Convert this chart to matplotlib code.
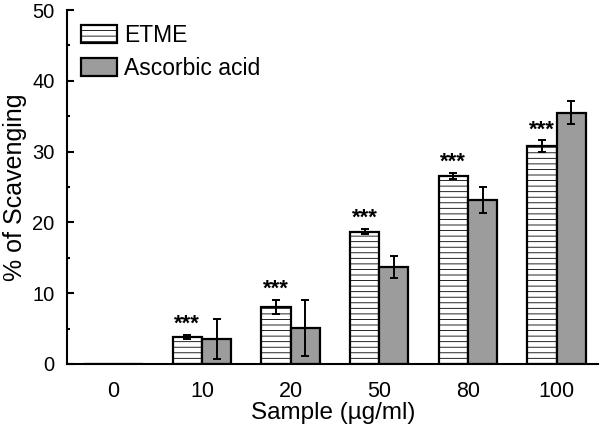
import numpy as np
import matplotlib.pyplot as plt
import matplotlib as mpl

plt.rcParams['font.family'] = ['Liberation Sans', 'DejaVu Sans']
mpl.rcParams['hatch.linewidth'] = 0.6
mpl.rcParams['hatch.color'] = '#a8a8a8'

samples = ['0', '10', '20', '50', '80', '100']
etme = [0, 3.8, 8.1, 18.7, 26.6, 30.8]
etme_err = [0, 0.3, 1.0, 0.4, 0.4, 0.8]
ascorbic = [0, 3.5, 5.1, 13.7, 23.2, 35.5]
ascorbic_err = [0, 2.8, 3.9, 1.55, 1.8, 1.6]
signif = ['', '***', '***', '***', '***', '***']

fig = plt.figure(figsize=(6, 4.3), dpi=100)
ax = fig.add_axes([0.112, 0.1535, 0.885, 0.823])

x = np.arange(len(samples))
w = 0.33
ekw = dict(elinewidth=1.4, capthick=1.4)
ax.bar(x - w/2, etme, w, color='white', edgecolor='black', linewidth=1.6,
       hatch='---', label='ETME')
ax.errorbar(x - w/2, etme, yerr=etme_err, fmt='none', ecolor='black', capsize=3, **ekw)
ax.bar(x + w/2, ascorbic, w, color='#9c9c9c', edgecolor='black', linewidth=1.6,
       label='Ascorbic acid')
ax.errorbar(x + w/2, ascorbic, yerr=ascorbic_err, fmt='none', ecolor='black', capsize=3, **ekw)

for xi, v, e, s in zip(x, etme, etme_err, signif):
    if s:
        ax.annotate(s, (xi - w/2, v + e), xytext=(0, 0), textcoords='offset points',
                    ha='center', va='bottom', fontsize=16, fontweight='bold')

ax.set_xlim(-0.52, 5.47)
ax.set_ylim(0, 50)
ax.set_xticks(x)
ax.set_xticklabels(samples, fontsize=15.5)
ax.tick_params(axis='x', length=0, pad=12)
ax.set_yticks(np.arange(0, 51, 10))
ax.set_yticks(np.arange(5, 50, 10), minor=True)
ax.tick_params(axis='y', which='major', length=5, width=1.5, labelsize=14.5,
               direction='in', pad=9)
ax.tick_params(axis='y', which='minor', length=2.5, width=1.5, direction='in')
for s in ['top', 'right']:
    ax.spines[s].set_visible(False)
for s in ['left', 'bottom']:
    ax.spines[s].set_linewidth(1.5)

ax.set_xlabel('Sample (µg/ml)', fontsize=17.5, labelpad=0)
ax.set_ylabel('% of Scavenging', fontsize=18, labelpad=4)

ax.legend(loc='upper left', bbox_to_anchor=(0.0, 1.0), frameon=False, fontsize=16.5,
          handlelength=1.57, handleheight=0.8, handletextpad=0.3, labelspacing=0.45,
          borderaxespad=0.3, borderpad=0.3)

fig.savefig('out.png', dpi=100)
